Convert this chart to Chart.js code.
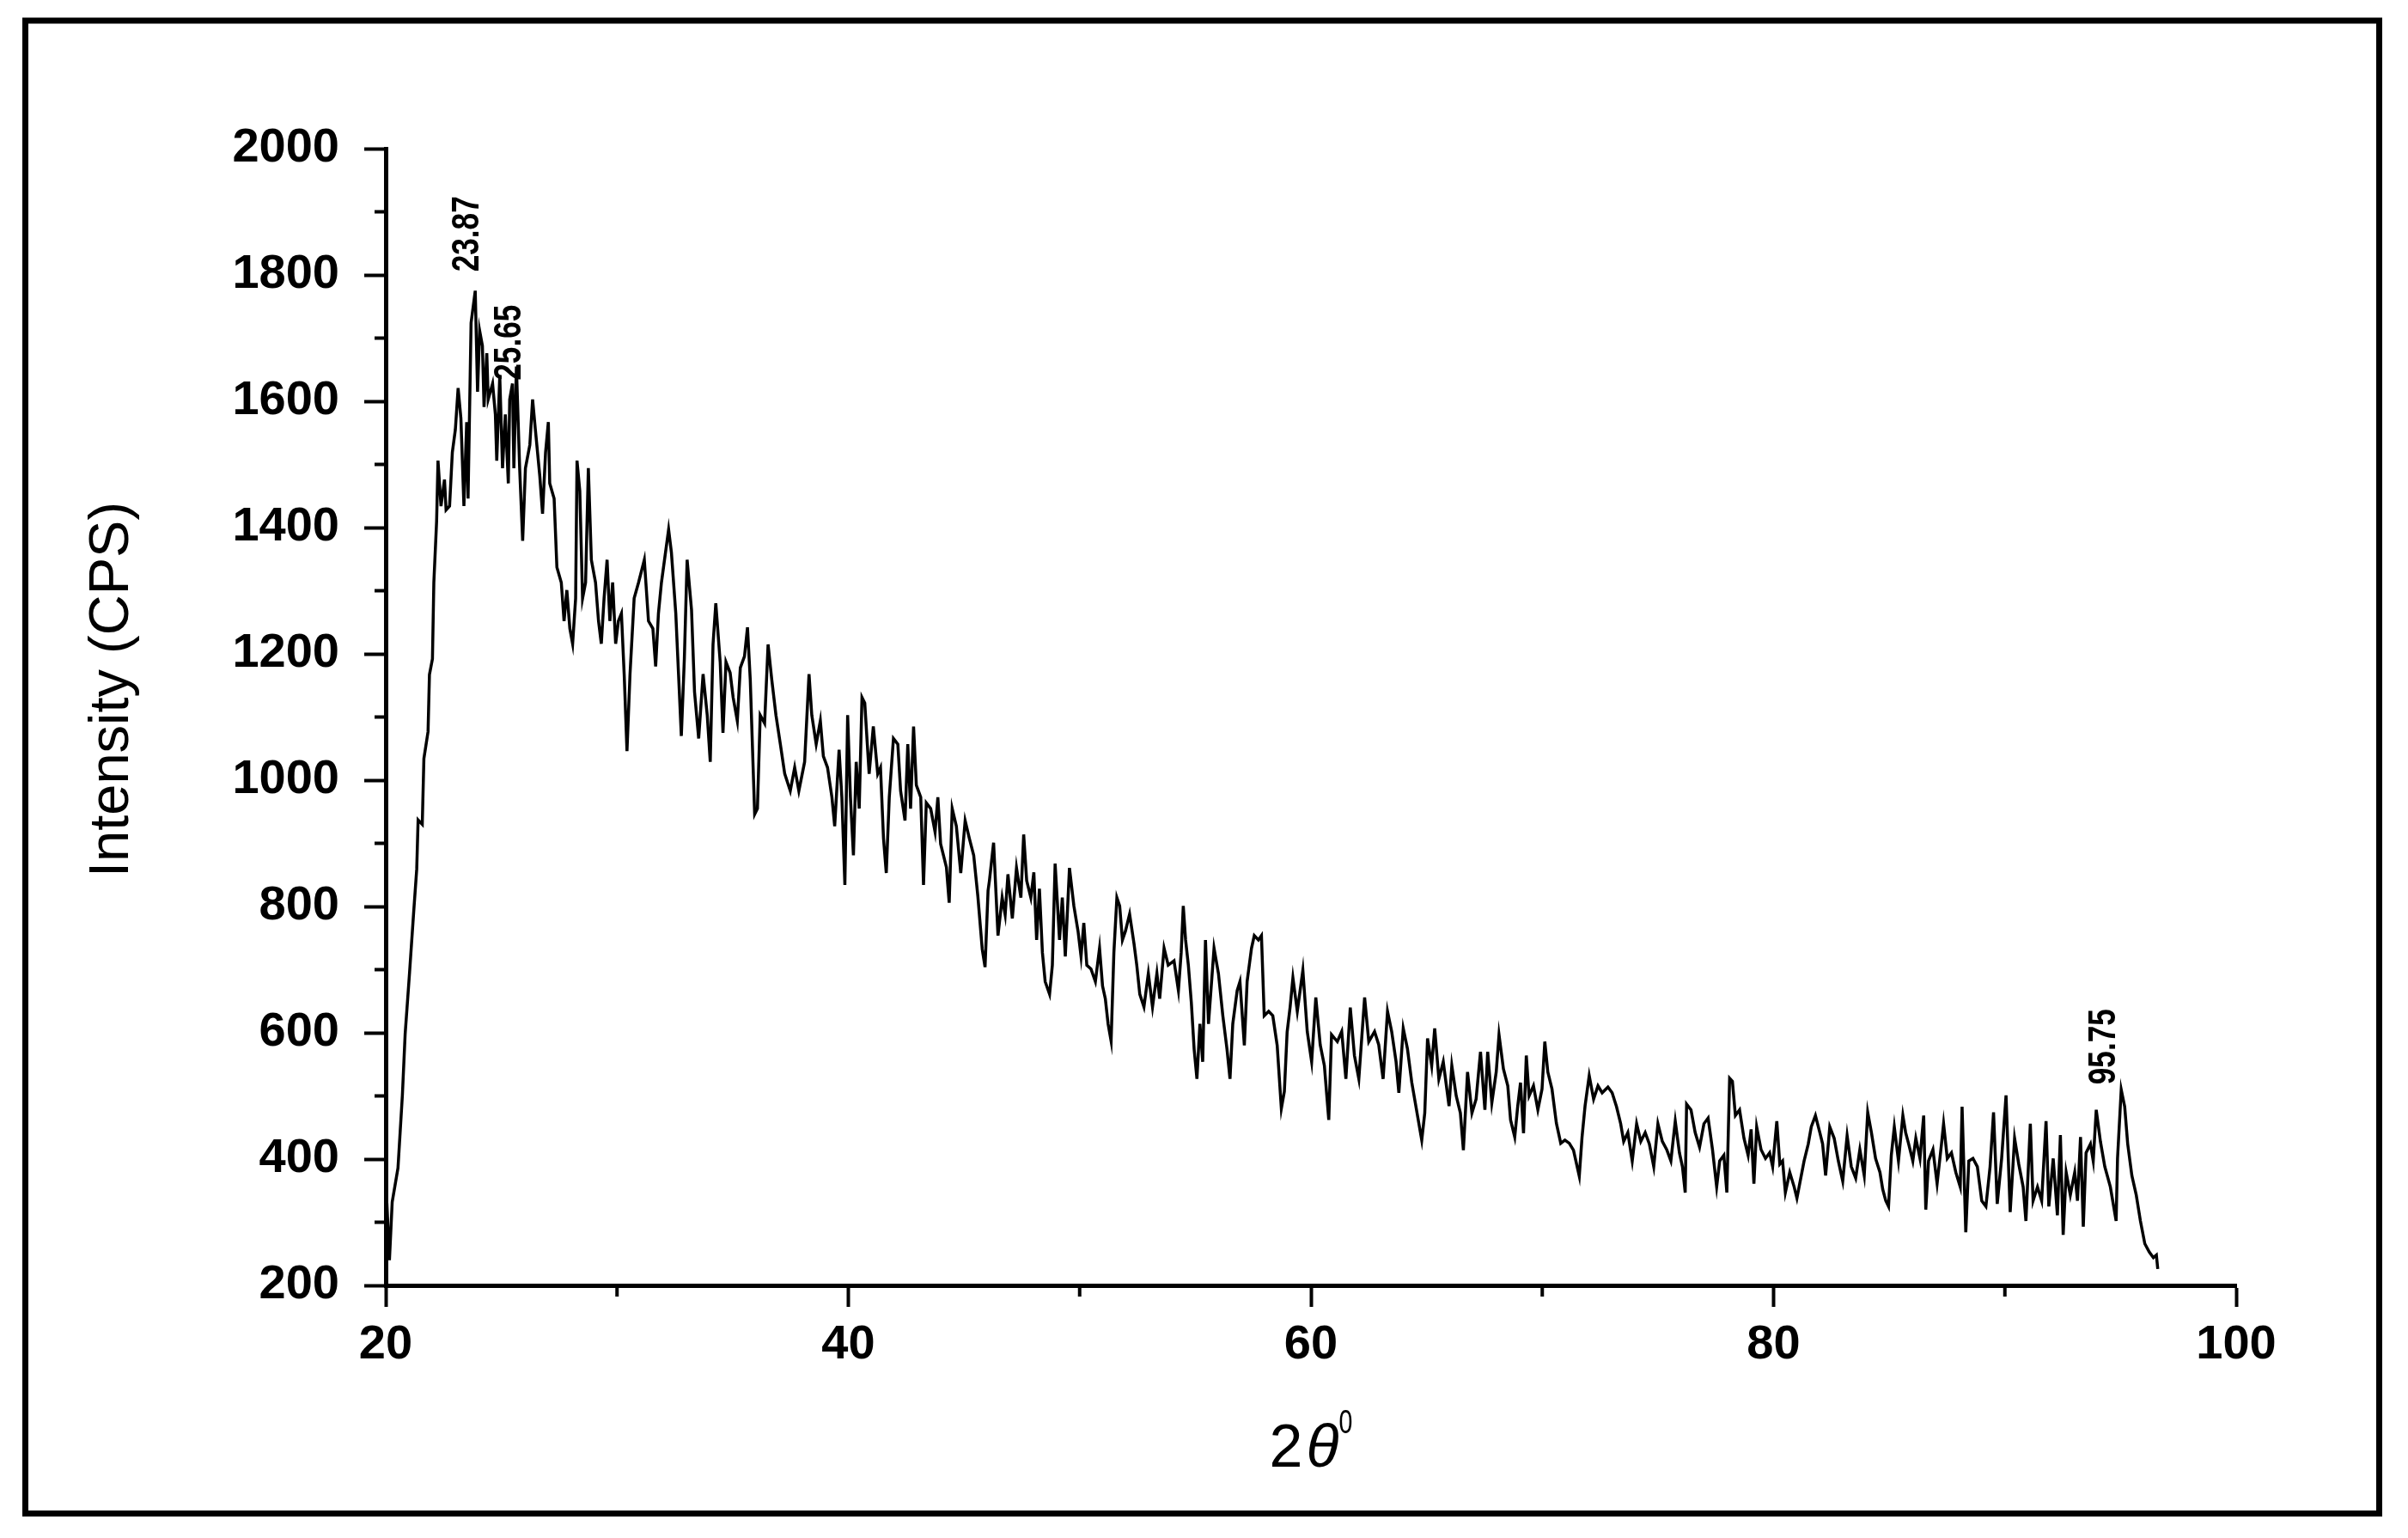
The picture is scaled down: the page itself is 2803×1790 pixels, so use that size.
<!DOCTYPE html>
<html>
<head>
<meta charset="utf-8">
<title>XRD pattern</title>
<script src="https://cdn.jsdelivr.net/npm/chart.js@4.4.1/dist/chart.umd.min.js"></script>
<style>
    html, body { margin: 0; padding: 0; background: #fff; }
    canvas { display: block; }
</style>
</head>
<body>
<canvas id="xrdChart" width="2803" height="1790"></canvas>
<script>
'use strict';

// ── Data ───────────────────────────────────────────────────
const twoTheta = [
    20.05, 20.16, 20.28, 20.53, 20.72, 20.84, 21.03, 21.21, 21.34, 21.40,
    21.58, 21.65, 21.83, 21.89, 22.02, 22.08, 22.20, 22.26, 22.39, 22.54,
    22.61, 22.76, 22.88, 23.01, 23.13, 23.25, 23.38, 23.50, 23.56, 23.69,
    23.87, 23.97, 24.06, 24.18, 24.25, 24.37, 24.43, 24.62, 24.74, 24.80,
    24.93, 25.05, 25.17, 25.30, 25.36, 25.48, 25.54, 25.65, 25.79, 25.92,
    26.04, 26.23, 26.35, 26.47, 26.66, 26.78, 26.91, 27.03, 27.09, 27.28,
    27.40, 27.59, 27.71, 27.83, 27.96, 28.08, 28.21, 28.27, 28.39, 28.51,
    28.64, 28.76, 28.89, 29.07, 29.20, 29.32, 29.44, 29.57, 29.69, 29.81,
    29.94, 30.06, 30.19, 30.31, 30.43, 30.56, 30.74, 30.93, 31.18, 31.36,
    31.55, 31.67, 31.79, 31.92, 32.23, 32.35, 32.54, 32.66, 32.78, 32.91,
    33.03, 33.22, 33.35, 33.53, 33.72, 33.90, 34.03, 34.15, 34.27, 34.46,
    34.58, 34.71, 34.89, 35.02, 35.20, 35.33, 35.51, 35.64, 35.76, 35.95,
    36.07, 36.19, 36.38, 36.53, 36.69, 36.87, 37.06, 37.25, 37.49, 37.68,
    37.86, 38.11, 38.30, 38.42, 38.61, 38.79, 38.92, 39.10, 39.29, 39.41,
    39.60, 39.72, 39.85, 39.97, 40.09, 40.22, 40.34, 40.47, 40.59, 40.71,
    40.90, 41.08, 41.27, 41.39, 41.52, 41.64, 41.77, 41.95, 42.14, 42.26,
    42.45, 42.57, 42.69, 42.82, 42.94, 43.13, 43.25, 43.37, 43.56, 43.75,
    43.87, 43.99, 44.24, 44.36, 44.49, 44.67, 44.86, 45.05, 45.23, 45.42,
    45.60, 45.79, 45.91, 46.04, 46.10, 46.28, 46.47, 46.65, 46.78, 46.90,
    47.09, 47.27, 47.46, 47.58, 47.71, 47.89, 48.02, 48.14, 48.26, 48.39,
    48.51, 48.70, 48.82, 48.94, 49.13, 49.25, 49.38, 49.56, 49.75, 49.93,
    50.06, 50.18, 50.31, 50.49, 50.68, 50.86, 50.99, 51.11, 51.23, 51.36,
    51.48, 51.61, 51.73, 51.85, 51.98, 52.16, 52.35, 52.47, 52.60, 52.78,
    52.97, 53.15, 53.34, 53.46, 53.65, 53.83, 54.08, 54.27, 54.39, 54.48,
    54.58, 54.70, 54.83, 54.95, 55.07, 55.20, 55.32, 55.44, 55.57, 55.81,
    56.00, 56.19, 56.37, 56.50, 56.62, 56.81, 56.93, 57.12, 57.24, 57.43,
    57.55, 57.73, 57.86, 57.98, 58.17, 58.35, 58.54, 58.72, 58.85, 58.97,
    59.10, 59.22, 59.41, 59.65, 59.84, 60.03, 60.21, 60.40, 60.58, 60.77,
    60.89, 61.14, 61.33, 61.51, 61.70, 61.88, 62.07, 62.32, 62.50, 62.75,
    62.93, 63.12, 63.31, 63.49, 63.68, 63.80, 63.99, 64.17, 64.36, 64.61,
    64.79, 64.92, 65.04, 65.22, 65.35, 65.53, 65.72, 65.97, 66.09, 66.28,
    66.46, 66.59, 66.77, 66.96, 67.14, 67.33, 67.52, 67.64, 67.82, 68.01,
    68.13, 68.32, 68.51, 68.63, 68.81, 68.94, 69.06, 69.19, 69.31, 69.43,
    69.62, 69.81, 69.99, 70.11, 70.24, 70.42, 70.61, 70.80, 70.98, 71.17,
    71.35, 71.60, 71.72, 71.85, 72.03, 72.22, 72.41, 72.59, 72.84, 73.02,
    73.21, 73.39, 73.52, 73.70, 73.89, 74.08, 74.26, 74.45, 74.63, 74.82,
    75.00, 75.19, 75.38, 75.56, 75.75, 75.93, 76.06, 76.18, 76.24, 76.43,
    76.61, 76.80, 76.99, 77.17, 77.36, 77.54, 77.67, 77.85, 77.98, 78.10,
    78.22, 78.35, 78.53, 78.72, 78.90, 79.03, 79.15, 79.27, 79.46, 79.65,
    79.83, 79.96, 80.14, 80.27, 80.39, 80.51, 80.70, 80.89, 81.01, 81.13,
    81.32, 81.50, 81.63, 81.81, 82.00, 82.12, 82.25, 82.43, 82.62, 82.80,
    82.99, 83.18, 83.36, 83.55, 83.73, 83.92, 84.07, 84.23, 84.41, 84.60,
    84.72, 84.85, 84.97, 85.09, 85.22, 85.40, 85.59, 85.71, 85.84, 86.02,
    86.15, 86.33, 86.49, 86.58, 86.70, 86.89, 87.07, 87.26, 87.35, 87.51,
    87.69, 87.88, 88.07, 88.15, 88.31, 88.44, 88.62, 88.81, 89.00, 89.18,
    89.36, 89.51, 89.67, 89.86, 90.05, 90.23, 90.42, 90.60, 90.79, 90.91,
    91.10, 91.22, 91.41, 91.59, 91.78, 91.90, 92.09, 92.27, 92.40, 92.52,
    92.65, 92.83, 93.02, 93.14, 93.27, 93.39, 93.51, 93.70, 93.82, 93.95,
    94.13, 94.32, 94.56, 94.81, 94.87, 95.03, 95.18, 95.31, 95.49, 95.68,
    95.86, 96.05, 96.24, 96.42, 96.55, 96.61
];

const intensity = [
    330, 240, 332, 386, 501, 598, 695, 792, 859, 937,
    930, 1034, 1077, 1167, 1192, 1313, 1410, 1506, 1434, 1476,
    1428, 1434, 1519, 1555, 1621, 1573, 1434, 1567, 1446, 1724,
    1775, 1615, 1712, 1688, 1591, 1676, 1603, 1628, 1579, 1506,
    1640, 1494, 1579, 1470, 1603, 1628, 1494, 1655, 1494, 1379,
    1494, 1531, 1603, 1555, 1482, 1422, 1519, 1567, 1470, 1446,
    1337, 1313, 1252, 1301, 1240, 1216, 1288, 1506, 1458, 1288,
    1313, 1494, 1349, 1313, 1252, 1216, 1288, 1349, 1252, 1313,
    1216, 1252, 1264, 1167, 1046, 1167, 1288, 1313, 1349, 1252,
    1240, 1180, 1264, 1313, 1397, 1361, 1264, 1167, 1070, 1192,
    1349, 1270, 1140, 1066, 1168, 1103, 1029, 1215, 1280, 1187,
    1075, 1187, 1170, 1131, 1094, 1178, 1196, 1242, 1159, 946,
    955, 1103, 1090, 1215, 1159, 1103, 1057, 1010, 983, 1020,
    983, 1029, 1168, 1103, 1057, 1094, 1038, 1020, 973, 927,
    1048, 973, 834, 1103, 973, 881, 1029, 955, 1131, 1122,
    1010, 1085, 1010, 1020, 908, 853, 973, 1066, 1057, 983,
    936, 1057, 955, 1085, 992, 973, 834, 964, 955, 918,
    973, 899, 862, 806, 955, 927, 853, 936, 908, 881,
    816, 732, 704, 825, 841, 901, 754, 814, 787, 851,
    781, 861, 814, 914, 841, 814, 854, 747, 828, 727,
    681, 661, 707, 868, 747, 814, 721, 861, 801, 761,
    721, 774, 707, 701, 681, 734, 674, 654, 614, 587,
    727, 814, 801, 747, 761, 788, 741, 707, 661, 641,
    694, 641, 694, 654, 734, 707, 714, 667, 727, 801,
    747, 707, 647, 574, 527, 614, 554, 747, 614, 734,
    694, 627, 574, 527, 614, 667, 681, 580, 681, 734,
    754, 747, 754, 627, 634, 627, 580, 480, 507, 601,
    641, 687, 634, 699, 602, 554, 656, 581, 548, 462,
    597, 586, 602, 527, 640, 564, 527, 656, 586, 602,
    581, 527, 634, 602, 554, 505, 607, 575, 521, 468,
    430, 473, 591, 548, 607, 527, 554, 484, 548, 500,
    473, 414, 538, 473, 495, 570, 478, 570, 489, 538,
    597, 543, 516, 462, 435, 484, 521, 441, 564, 500,
    516, 478, 511, 586, 538, 511, 457, 425, 430, 425,
    414, 373, 435, 484, 532, 495, 516, 505, 514, 505,
    483, 456, 428, 442, 397, 456, 428, 442, 424, 388,
    456, 428, 415, 397, 460, 410, 388, 347, 487, 478,
    442, 419, 456, 465, 415, 356, 397, 406, 347, 528,
    523, 469, 478, 433, 406, 447, 361, 451, 415, 401,
    410, 388, 460, 392, 397, 347, 379, 356, 338, 361,
    397, 424, 451, 469, 442, 424, 374, 451, 433, 397,
    365, 437, 388, 370, 415, 374, 474, 442, 401, 379,
    352, 334, 325, 406, 451, 397, 469, 442, 424, 397,
    433, 401, 469, 320, 397, 415, 361, 424, 456, 401,
    410, 379, 356, 483, 284, 397, 401, 388, 334, 325,
    388, 474, 329, 401, 501, 316, 433, 392, 356, 302,
    456, 334, 356, 334, 460, 325, 401, 311, 438, 280,
    379, 343, 379, 334, 435, 293, 410, 424, 397, 478,
    428, 388, 356, 302, 401, 510, 483, 424, 374, 343,
    302, 266, 253, 244, 248, 226
];

// peak annotations: text, and where the rotated label starts (data units)
const peakLabels = ['23.87', '25.65', '95.75'];
const peakLabelX = [23.57, 25.39, 94.32];
const peakLabelY = [1805, 1633, 518];

// minor tick positions
const xMinorTicks = [30, 50, 70, 90];
const yMinorTicks = [300, 500, 700, 900, 1100, 1300, 1500, 1700, 1900];

const FONT = '"Liberation Sans", Arial, sans-serif';

// ── Plugins ───────────────────────────────────────────────
const framePlugin = {
    id: 'frame',
    beforeDraw(chart) {
        const ctx = chart.ctx;
        ctx.save();
        ctx.fillStyle = '#fff';
        ctx.fillRect(0, 0, chart.width, chart.height);
        ctx.strokeStyle = '#000';
        ctx.lineWidth = 7;
        ctx.strokeRect(29.5, 24, 2740, 1737.5);
        ctx.restore();
    }
};

const extrasPlugin = {
    id: 'extras',
    afterDraw(chart) {
        const { ctx, chartArea } = chart;
        const x = chart.scales.x;
        const y = chart.scales.y;
        ctx.save();

        // minor ticks
        ctx.strokeStyle = '#000';
        ctx.lineWidth = 4;
        yMinorTicks.forEach(v => {
            const py = y.getPixelForValue(v);
            ctx.beginPath();
            ctx.moveTo(chartArea.left, py);
            ctx.lineTo(chartArea.left - 13, py);
            ctx.stroke();
        });
        xMinorTicks.forEach(v => {
            const px = x.getPixelForValue(v);
            ctx.beginPath();
            ctx.moveTo(px, chartArea.bottom);
            ctx.lineTo(px, chartArea.bottom + 13);
            ctx.stroke();
        });

        ctx.fillStyle = '#000';

        // peak labels, rotated, reading upwards
        ctx.font = 'bold 44px ' + FONT;
        ctx.textAlign = 'left';
        ctx.textBaseline = 'middle';
        peakLabels.forEach((t, i) => {
            ctx.save();
            ctx.translate(x.getPixelForValue(peakLabelX[i]), y.getPixelForValue(peakLabelY[i]));
            ctx.rotate(-Math.PI / 2);
            ctx.scale(0.8, 1);
            ctx.fillText(t, 0, 0);
            ctx.restore();
        });

        // y title
        ctx.save();
        ctx.font = '65px ' + FONT;
        ctx.textAlign = 'center';
        ctx.translate(chartArea.left - 318, (chartArea.top + chartArea.bottom) / 2 - 32);
        ctx.rotate(-Math.PI / 2);
        ctx.fillText('Intensity (CPS)', 0, 0);
        ctx.restore();

        // x title: 2θ with superscript 0
        ctx.textBaseline = 'alphabetic';
        ctx.textAlign = 'left';
        const fTwo = '70px ' + FONT;
        const fTheta = 'italic 70px ' + FONT;
        const fSup = '38px ' + FONT;
        ctx.font = fTwo;
        const w1 = ctx.measureText('2').width;
        ctx.font = fTheta;
        const w2 = ctx.measureText('θ').width;
        ctx.font = fSup;
        const w3 = ctx.measureText('0').width * 0.75;
        const base = chartArea.bottom + 211;
        let cx = (chartArea.left + chartArea.right) / 2 - (w1 + 4 + w2 + w3) / 2;
        ctx.font = fTwo;
        ctx.fillText('2', cx, base);
        cx += w1 + 4;
        ctx.font = fTheta;
        ctx.fillText('θ', cx, base);
        cx += w2;
        ctx.save();
        ctx.font = fSup;
        ctx.translate(cx, base - 39);
        ctx.scale(0.75, 1);
        ctx.fillText('0', 0, 0);
        ctx.restore();

        ctx.restore();
    }
};

// ── Chart ─────────────────────────────────────────────────
const canvas = document.getElementById('xrdChart');
const points = twoTheta.map((t, i) => ({ x: t, y: intensity[i] }));

new Chart(canvas, {
    type: 'line',
    data: {
        datasets: [{
            label: 'XRD',
            data: points,
            borderColor: '#000',
            borderWidth: 3.5,
            pointRadius: 0,
            tension: 0,
            fill: false,
        }]
    },
    options: {
        responsive: false,
        animation: false,
        events: [],
        layout: { padding: { left: 0, top: 173, right: 200, bottom: 0 } },
        plugins: {
            legend: { display: false },
            tooltip: { enabled: false },
        },
        scales: {
            x: {
                type: 'linear',
                min: 20,
                max: 100,
                afterFit: (scale) => { scale.height = 294; },
                border: { display: true, color: '#000', width: 5 },
                grid: {
                    drawOnChartArea: false,
                    drawTicks: true,
                    tickLength: 25,
                    tickWidth: 4,
                    tickColor: '#000',
                    color: '#000',
                },
                ticks: {
                    stepSize: 20,
                    color: '#000',
                    padding: 11,
                    font: { family: FONT, size: 56, weight: 'bold' },
                    callback: (value) => String(value),
                },
            },
            y: {
                min: 200,
                max: 2000,
                afterFit: (scale) => { scale.width = 449; },
                border: { display: true, color: '#000', width: 5 },
                grid: {
                    drawOnChartArea: false,
                    drawTicks: true,
                    tickLength: 25,
                    tickWidth: 4,
                    tickColor: '#000',
                    color: '#000',
                },
                ticks: {
                    stepSize: 200,
                    color: '#000',
                    padding: 29,
                    font: { family: FONT, size: 56, weight: 'bold' },
                    callback: (value) => String(value),
                },
            },
        },
    },
    plugins: [framePlugin, extrasPlugin],
});
</script>
</body>
</html>
